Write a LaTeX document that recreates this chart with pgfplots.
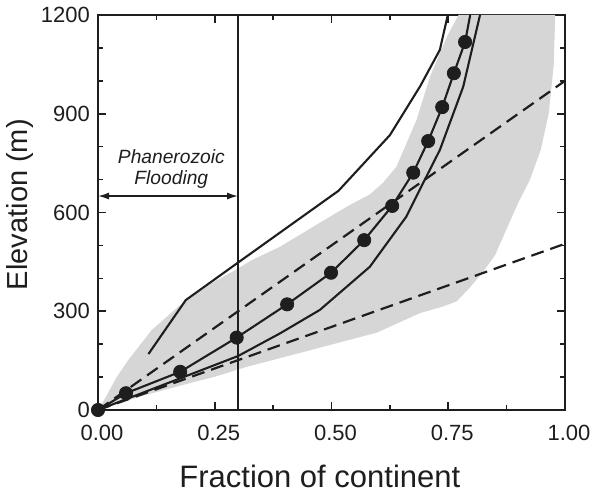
\documentclass[border=0pt]{standalone}
\usepackage{fontspec}
\setmainfont{Liberation Sans}
\usepackage{pgfplots}
\pgfplotsset{compat=1.18}
\usetikzlibrary{arrows.meta}
\definecolor{shade}{RGB}{214,214,214}
\definecolor{ink}{RGB}{30,30,30}
\begin{document}
\begin{tikzpicture}
\begin{axis}[
  at={(0,0)}, anchor=south west,
  scale only axis, width=233.5pt, height=197.5pt,
  xmin=0, xmax=1, ymin=0, ymax=1200,
  clip=false,
  xtick={0,0.25,0.5,0.75,1}, xticklabels={0.00,0.25,0.50,0.75,1.00},
  ytick={0,300,600,900,1200}, yticklabels={0,300,600,900,1200},
  minor xtick={0.125,0.375,0.625,0.875},
  minor ytick={100,200,400,500,700,800,1000,1100},
  tick align=inside, major tick length=4pt, minor tick length=2.5pt,
  tick style={ink, line width=0.8pt},
  axis line style={ink, line width=1pt},
  /pgf/number format/assume math mode=true,
  ticklabel style={font=\fontsize{11}{13}\selectfont, text=ink},
  xticklabel style={anchor=base, yshift=-15pt, xshift=2pt},
  yticklabel style={xshift=-0.5pt},
  xlabel={Fraction of continent},
  xlabel style={at={(axis description cs:0.475,0)}, anchor=base, yshift=-38.5pt, font=\fontsize{15.5}{18}\selectfont, text=ink},
  ylabel={Elevation (m)},
  ylabel style={at={(axis description cs:-0.152,0.52)}, anchor=base, font=\fontsize{14.5}{17}\selectfont, text=ink},
]
% shaded envelope
\addplot[fill=shade, draw=none] coordinates {
 (0,0) (0.015,35) (0.04,100) (0.065,152) (0.115,243) (0.172,314) (0.243,385) (0.30,430)
 (0.33,456) (0.39,496) (0.461,557) (0.533,618) (0.582,655) (0.610,690)
 (0.639,739) (0.682,881) (0.711,1013) (0.747,1134) (0.772,1200)
 (0.979,1200) (0.976,1050) (0.965,900) (0.948,790) (0.925,700) (0.90,630)
 (0.875,550) (0.85,470) (0.822,415) (0.795,370) (0.768,330) (0.74,315)
 (0.689,294) (0.597,235) (0.45,180) (0.318,131) (0.25,101) (0.208,86)
 (0.10,45) (0.03,14) (0,0)
};
% dashed reference lines
\addplot[ink, line width=1.1pt, dash pattern=on 6.5pt off 3.5pt] coordinates {(0,0) (1,1000)};
\addplot[ink, line width=1.1pt, dash pattern=on 6.5pt off 3.5pt] coordinates {(0,0) (1,505)};
% upper-left solid curve
\addplot[ink, line width=1.05pt] coordinates {
 (0.108,170) (0.188,334) (0.30,448) (0.515,666) (0.625,835) (0.69,984) (0.732,1094) (0.749,1200)
};
% lower-right solid curve
\addplot[ink, line width=1.05pt] coordinates {
 (0,0) (0.30,164) (0.39,233) (0.475,304) (0.582,435) (0.66,587) (0.696,689) (0.732,790) (0.782,982) (0.818,1200)
};
% curve through dots
\addplot[ink, line width=1.05pt] coordinates {
 (0,0) (0.06,51) (0.176,116) (0.297,220) (0.405,321) (0.499,417) (0.570,516)
 (0.630,620) (0.675,721) (0.707,817) (0.737,920) (0.762,1023) (0.786,1118) (0.797,1200)
};
\addplot[only marks, mark=*, mark size=3.3pt, mark options={fill=ink, draw=ink}] coordinates {
 (0,0) (0.06,51) (0.176,116) (0.297,220) (0.405,321) (0.499,417) (0.570,516)
 (0.630,620) (0.675,721) (0.707,817) (0.737,920) (0.762,1023) (0.786,1118)
};
% Phanerozoic flooding marker
\addplot[ink, line width=0.8pt] coordinates {(0.30,0) (0.30,1200)};
\addplot[ink, line width=0.8pt, {Latex[length=5.5pt,width=3.5pt]}-{Latex[length=5.5pt,width=3.5pt]}] coordinates {(0,650) (0.30,650)};
\node[anchor=base, font=\fontsize{9.6}{11}\selectfont\itshape, text=ink] at (axis cs:0.157,750) {Phanerozoic};
\node[anchor=base, font=\fontsize{9.6}{11}\selectfont\itshape, text=ink] at (axis cs:0.157,684) {Flooding};
\end{axis}
\pgfresetboundingbox
\path[use as bounding box] (-49pt,-41pt) rectangle (247pt,205pt);
\end{tikzpicture}
\end{document}
